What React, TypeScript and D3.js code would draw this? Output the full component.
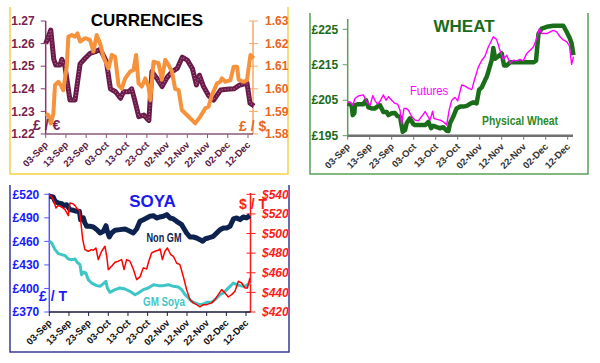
import React from 'react';
import * as d3 from 'd3';

type Pt = [number, number]; // [days after 03-Sep, value]

const FONT = '"Liberation Sans", Arial, sans-serif';

const tickDays = [0, 10, 20, 30, 40, 50, 60, 70, 80, 90, 100];
const tickLabels = ['03-Sep', '13-Sep', '23-Sep', '03-Oct', '13-Oct', '23-Oct', '02-Nov', '12-Nov', '22-Nov', '02-Dec', '12-Dec'];

// currencies
const eurTicks = [1.22, 1.23, 1.24, 1.25, 1.26, 1.27];
const usdTicks = [1.58, 1.59, 1.6, 1.61, 1.62, 1.63];
const gbpEur: Pt[] = [
  [0, 1.26], [2.5, 1.266], [4, 1.253], [5, 1.2505], [7, 1.2505], [8, 1.253], [9.5, 1.25], [12, 1.235],
  [14.5, 1.235], [17, 1.251], [19.5, 1.2535], [22, 1.2557], [24.5, 1.2564], [27, 1.2575], [30, 1.252],
  [32, 1.24], [34.5, 1.2387], [37, 1.2358], [38.5, 1.2387], [41, 1.2387], [42.5, 1.24], [44, 1.235],
  [46, 1.2277], [48.5, 1.2284], [50, 1.2269], [51, 1.226], [52.5, 1.2476], [55, 1.2446], [57.5, 1.241],
  [60, 1.245], [62.5, 1.2476], [65, 1.249], [67.5, 1.254], [70, 1.2527], [72.5, 1.249], [74.5, 1.2417],
  [76, 1.246], [78, 1.241], [80.5, 1.237], [83, 1.235], [86.5, 1.2395], [89.5, 1.2398], [93, 1.24],
  [96, 1.2417], [99.5, 1.2425], [101, 1.2336], [103, 1.2324],
];
const gbpUsd: Pt[] = [
  [0, 1.589], [1.3, 1.5884], [2.5, 1.5847], [3.8, 1.589], [4.6, 1.6017], [6.3, 1.6031], [7.9, 1.6009],
  [8.7, 1.5994], [10.4, 1.6098], [11.2, 1.6231], [12.9, 1.6238], [14.5, 1.6231], [15.7, 1.6245],
  [17, 1.6209], [19.5, 1.6224], [21.9, 1.6216], [23.6, 1.6165], [25.2, 1.6238], [26.9, 1.62],
  [28.5, 1.6142], [31, 1.609], [32.7, 1.615], [34.3, 1.6142], [36, 1.6017], [37.6, 1.6], [39.3, 1.6046],
  [41.7, 1.6076], [43.4, 1.6083], [44.7, 1.615], [45.9, 1.6024], [47.5, 1.601], [49.2, 1.6046],
  [50.8, 1.601], [51.7, 1.595], [53.3, 1.612], [55.8, 1.6113], [57.4, 1.604], [59.1, 1.6128],
  [60.7, 1.6106], [62.4, 1.6076], [64, 1.6], [65.7, 1.5994], [67.3, 1.5906], [69.8, 1.5884],
  [72.3, 1.5862], [73.9, 1.5847], [76.4, 1.5877], [78.9, 1.5914], [80.5, 1.5921], [82.2, 1.5973],
  [84.7, 1.6024], [86.3, 1.6031], [87.1, 1.6046], [88.8, 1.6031], [91.3, 1.6038], [92.9, 1.6098],
  [94.6, 1.6098], [95.4, 1.604], [97.9, 1.6031], [99.5, 1.6038], [101.2, 1.615], [102.8, 1.6135],
];

// wheat
const wheatTicks = [195, 205, 215, 225];
const physicalWheat: Pt[] = [
  [0, 204.1], [1.8, 203.6], [2.3, 200.8], [3, 201.3], [3.3, 203.6], [4.8, 203.9], [7.1, 203.9], [8.3, 205],
  [9.4, 203], [10.9, 202.7], [12.4, 202.7], [13.9, 203.4], [14.7, 203.6], [16.2, 201.7], [17.7, 201.7],
  [18.5, 200.8], [20, 201.3], [21.5, 201.4], [22.6, 200.5], [23.8, 200.3], [25, 196.1], [26.1, 196.6],
  [26.8, 198.5], [28.3, 199.9], [29.8, 198.3], [30.6, 198], [32.9, 198], [35.2, 198], [36.7, 198.9],
  [37.9, 197.1], [38.9, 197.8], [40.5, 197.4], [42, 197.1], [43.5, 197.4], [45, 196.4], [45.8, 196.3],
  [46.5, 198.5], [48, 200.4], [49.5, 202.7], [51.1, 203.2], [52.6, 203.2], [54.1, 203.4], [55.6, 204],
  [57.1, 204.4], [58.6, 204.1], [59.7, 207.9], [60.9, 208.6], [62.4, 210.6], [63.2, 211.6], [63.9, 213],
  [65.5, 216.4], [66.2, 219.7], [67, 216.7], [68.5, 217.4], [70, 218.2], [71.1, 214.8], [72.3, 214.8],
  [73.8, 215.7], [84.4, 215.7], [85.6, 216.2], [86.7, 223.7], [88.2, 225.2], [90.5, 225.7], [93.5, 226],
  [98, 226], [99.5, 224.3], [101, 222.4], [101.8, 221], [102.6, 217.7],
];
const wheatFutures: Pt[] = [
  [0, 204.4], [1.1, 204.5], [2.3, 203.6], [3.3, 205.5], [4.8, 206.2], [7.1, 206.5], [8.6, 204.6],
  [10.2, 203.6], [11.4, 206.3], [12.4, 204.9], [13.6, 203.9], [14.7, 204.7], [16.2, 206.5], [17.4, 205],
  [18.5, 206], [20, 205], [21.5, 204.1], [22.7, 203.9], [23.8, 202.2], [24.5, 198.3], [25.6, 202.7],
  [26.5, 202.7], [27.6, 202.2], [29.1, 200.4], [30.6, 199.4], [32.1, 199.2], [33.6, 200.4], [35.2, 201.8],
  [36.7, 200.2], [37.4, 199.4], [38.6, 201.9], [39.2, 199.9], [40.5, 199.6], [42, 199.4], [43.5, 198.9],
  [45, 198], [46.1, 202.2], [47.3, 205], [48.8, 205.8], [50, 204.8], [51.8, 209.3], [53.3, 209],
  [54.8, 208.4], [56.4, 208], [57.6, 210.7], [59.4, 214.4], [60.9, 216.2], [62.4, 217.4], [63.9, 220],
  [66.2, 222.9], [67.7, 222.1], [69.2, 219.1], [70.8, 216.5], [72.3, 217.7], [73.8, 215.4], [75.3, 216.3],
  [76.8, 216.1], [78.3, 216.5], [79.8, 216.1], [81.4, 218.2], [82.9, 219.1], [84.4, 220], [85.9, 222.4],
  [87.1, 225.2], [88.2, 223.8], [90.5, 223.8], [92, 224.3], [93.5, 224.7], [95, 224.3], [96.5, 222.9],
  [98, 222], [99.5, 221.5], [100.8, 220.3], [101.8, 215.1], [102.6, 217.3],
];

// soya
const soyaGbpTicks = [370, 400, 430, 460, 490, 520];
const soyaUsdTicks = [420, 440, 460, 480, 500, 520, 540];
const nonGm: Pt[] = [
  [0, 517.5], [2, 516.6], [2.9, 511.1], [4.6, 509], [6.3, 508.1], [7.1, 505.5], [8.8, 506.7], [10.5, 500.5],
  [12.2, 499.6], [13.9, 498.4], [15.3, 498.4], [15.9, 487.7], [17.3, 489.9], [18.1, 483.5], [19, 479.2],
  [20.7, 479.2], [22.4, 478.4], [24.1, 475], [25.8, 470.7], [27.5, 472.9], [28.8, 480], [29.5, 472.9],
  [30.5, 465.6], [31.7, 470.7], [33.4, 474.1], [35.9, 475], [38.5, 475.8], [41, 472.9], [42.7, 470.7],
  [44.4, 475.8], [46.1, 485.6], [47.8, 487.7], [49.5, 489.8], [51.2, 492], [52.9, 492.8], [54.6, 489.8],
  [56.3, 491.1], [58, 492], [59.7, 494.1], [61.4, 489.8], [63.1, 488.6], [64.7, 485.6], [67.3, 481.3],
  [69.8, 470.7], [71.5, 465.6], [73.2, 465.6], [74.9, 464.3], [76.6, 462.2], [78, 460.1], [79.2, 463.1],
  [80.8, 464.3], [83.4, 466.5], [85.1, 470.7], [86.8, 474.9], [88.5, 477.1], [90.2, 477.1], [91.9, 479.2],
  [93.6, 488.6], [95.3, 489.9], [97, 487.7], [98.6, 491.1], [100.3, 489.9], [102, 492.8],
];
const gmSoya: Pt[] = [
  [0, 460.1], [1.2, 458], [2.9, 449.5], [4.6, 444.4], [6.3, 443.1], [8, 441.8], [9.7, 437.6], [11.4, 436.7],
  [13.1, 437.6], [14.2, 433.4], [15.6, 430.3], [16.4, 417.6], [17.3, 420.6], [18.6, 419.7], [19.8, 411.2],
  [21.5, 406.9], [24.1, 403.6], [25.8, 402.7], [27.5, 406.1], [28.8, 409.1], [29.5, 400.6], [30.8, 395.1],
  [33.4, 398.5], [35.9, 400.6], [38.5, 399.3], [41, 396.3], [43.6, 392.1], [45.3, 394.2], [47.8, 398.5],
  [50.3, 400.6], [52.9, 404.8], [55.4, 403.6], [58, 403.6], [60.5, 404.8], [63.1, 402.7], [65.6, 401.8],
  [67.3, 398.5], [69, 392.1], [70.7, 387.8], [72.4, 383.6], [74.9, 380.6], [76.6, 379.3], [78.3, 380.2],
  [80, 382.3], [82.5, 382.3], [85.1, 387.8], [86.8, 392.1], [88.5, 394.2], [90.2, 398.5], [91.9, 402.7],
  [93.6, 407], [95.3, 404.8], [97, 403.6], [98.6, 402.7], [100.3, 403.6], [102, 407.8],
];
const soyaUsd: Pt[] = [
  [0, 539.7], [1.2, 537.3], [2, 534.6], [3.4, 526.1], [4.6, 528.5], [6.3, 527.1], [8, 524.4], [9.7, 518.2],
  [10.5, 531.2], [11.9, 530.5], [13.1, 528.5], [14.2, 525.1], [15.3, 523.7], [15.9, 514.2], [17, 493.8],
  [18.1, 483.6], [19.8, 481.9], [21.5, 483.6], [22.4, 482.9], [23.7, 485.3], [24.9, 473.4], [26.6, 481.9],
  [28.3, 487], [29.2, 476.8], [30, 463.2], [31.7, 466.6], [33.4, 470.7], [35.1, 471.8], [36.8, 473.4],
  [38, 463.2], [39.3, 473.4], [41, 471.8], [42.7, 463.9], [44.4, 453], [46.1, 455.8], [47.8, 465],
  [49.5, 463.9], [50.3, 470], [52, 480.2], [53.7, 481.9], [55.4, 482.9], [56.3, 484.3], [57.5, 473.4],
  [58.8, 481.9], [60, 485.3], [61.7, 478.6], [63.1, 476.8], [64.7, 470], [66.4, 468.3], [68.1, 456.4],
  [69.8, 442.8], [71.5, 432.6], [73.2, 429.3], [74.9, 427.5], [76.6, 425.1], [78.3, 427.5], [80, 427.5],
  [82.5, 429.3], [84.2, 432.6], [85.9, 437.7], [87.6, 442.8], [89.3, 439.5], [91, 435.3], [92.7, 437.7],
  [94.4, 441.2], [96.1, 451.3], [97.8, 449.6], [99.5, 444.5], [100.7, 444.5], [102, 454.7],
];

function makeLine(x: d3.ScaleLinear<number, number>, y: d3.ScaleLinear<number, number>) {
  return d3.line<Pt>().x(d => x(d[0])).y(d => y(d[1]));
}

function DateAxis({ x, y, x1, color, labelColor, width = 1.5 }: any) {
  return (
    <g>
      <line x1={x(0)} x2={x1} y1={y} y2={y} stroke={color} strokeWidth={width} />
      {tickDays.map((d, i) => (
        <g key={i}>
          <line x1={x(d)} x2={x(d)} y1={y} y2={y + 4} stroke={color} />
          <text
            transform={`translate(${x(d) + 3},${y + 11.5}) rotate(-45)`}
            textAnchor="end"
            fontSize={9.5}
            fontWeight="bold"
            fill={labelColor}
          >
            {tickLabels[i]}
          </text>
        </g>
      ))}
    </g>
  );
}

function ValueAxis({ y, x, ticks, color, labelColor, side, fmt, top, italic, both, gap = 11 }: any) {
  const [y0, y1] = y.range();
  return (
    <g>
      <line x1={x} x2={x} y1={y0} y2={top ?? y1} stroke={color} strokeWidth={1.5} />
      {ticks.map((t: number) => (
        <g key={t}>
          <line
            x1={both ? x - 4 : x}
            x2={side === 'left' ? x - 5 : x + 5}
            y1={y(t)}
            y2={y(t)}
            stroke={color}
          />
          <text
            x={side === 'left' ? x - gap : x + gap}
            y={y(t)}
            dy="0.35em"
            textAnchor={side === 'left' ? 'end' : 'start'}
            fontSize={12}
            fontWeight="bold"
            fontStyle={italic ? 'italic' : 'normal'}
            fill={labelColor}
          >
            {fmt(t)}
          </text>
        </g>
      ))}
    </g>
  );
}

export default function App() {
  // currencies panel
  const cx = d3.scaleLinear().domain([0, 100]).range([45.7, 248]);
  const cyL = d3.scaleLinear().domain([1.22, 1.27]).range([134, 21]);
  const cyR = d3.scaleLinear().domain([1.58, 1.63]).range([134, 21]);
  const eurPath = makeLine(cx, cyL)(gbpEur) || '';
  const usdPath = makeLine(cx, cyR)(gbpUsd) || '';

  // wheat panel
  const wx = d3.scaleLinear().domain([0, 100]).range([347.7, 567.7]);
  const wy = d3.scaleLinear().domain([195, 225]).range([135.7, 29.3]);

  // soya panel
  const sx = d3.scaleLinear().domain([0, 100]).range([49.3, 246]);
  const syL = d3.scaleLinear().domain([370, 520]).range([312, 194.3]);
  const syR = d3.scaleLinear().domain([420, 540]).range([312, 194.3]);

  return (
    <svg
      width={600}
      height={363}
      style={{ position: 'absolute', left: 0, top: 0, background: '#fff' }}
      fontFamily={FONT}
    >
      {/* CURRENCIES */}
      <path d="M10,7 V174 H288 V7" fill="none" stroke="#f3d24c" strokeWidth={1.5} />
      <text x={147} y={26} textAnchor="middle" fontSize={17} fontWeight="bold" fill="#000">CURRENCIES</text>
      <ValueAxis y={cyL} x={45.7} ticks={eurTicks} color="#8a3a6a" labelColor="#7a1f50" side="left" fmt={(v: number) => v.toFixed(2)} />
      <ValueAxis y={cyR} x={253} ticks={usdTicks} color="#f5a86a" labelColor="#e8661e" side="right" both gap={12} fmt={(v: number) => v.toFixed(2)} />
      <DateAxis x={cx} y={134} x1={253} color="#8a5a7a" labelColor="#5a1a40" />
      <path d={eurPath} fill="none" stroke="#6a1a48" strokeWidth={5} strokeLinejoin="round" />
      <path d={eurPath} fill="none" stroke="#b06a94" strokeWidth={1.4} strokeDasharray="1 2" strokeLinejoin="round" />
      <path d={usdPath} fill="none" stroke="#f7923c" strokeWidth={4} strokeLinejoin="round" />
      <text x={33} y={130} fontSize={14} fontWeight="bold" fill="#7a1f50">£ / €</text>
      <text x={239} y={131} fontSize={14} fontWeight="bold" fill="#e8661e">£ / $</text>

      {/* WHEAT */}
      <path d="M310,13 V174 H588 V13" fill="none" stroke="#5aa05a" strokeWidth={1.5} />
      <text x={464} y={31.5} textAnchor="middle" fontSize={17} fontWeight="bold" fill="#1a6b1a">WHEAT</text>
      <ValueAxis y={wy} x={347.7} top={19} ticks={wheatTicks} color="#5aa05a" labelColor="#1a6b1a" side="left" gap={9.5} fmt={(v: number) => `£${v}`} />
      <DateAxis x={wx} y={135.7} x1={573} color="#707070" labelColor="#333" width={2.5} />
      <path d={makeLine(wx, wy)(physicalWheat) || ''} fill="none" stroke="#1a6e1a" strokeWidth={4.5} strokeLinejoin="round" />
      <path d={makeLine(wx, wy)(wheatFutures) || ''} fill="none" stroke="#ff00ff" strokeWidth={1.4} strokeLinejoin="round" />
      <text x={410} y={95} fontSize={12} fill="#ff00ff" textLength={38} lengthAdjust="spacingAndGlyphs">Futures</text>
      <text x={482} y={125} fontSize={12} fontWeight="bold" fill="#2a8a2a" textLength={76} lengthAdjust="spacingAndGlyphs">Physical Wheat</text>

      {/* SOYA */}
      <path d="M10,185 V352 H289 V185" fill="none" stroke="#3a3a95" strokeWidth={1.5} />
      <text x={152.5} y={206.5} textAnchor="middle" fontSize={17} fontWeight="bold" fill="#1a1aee">SOYA</text>
      <ValueAxis y={syL} x={49.3} top={193} ticks={soyaGbpTicks} color="#5555ff" labelColor="#1a1aff" side="left" gap={10} fmt={(v: number) => `£${v}`} />
      <ValueAxis y={syR} x={250.5} top={193} ticks={soyaUsdTicks} color="#ff1a1a" labelColor="#ff1a1a" side="right" italic both gap={11.5} fmt={(v: number) => `$${v}`} />
      <DateAxis x={sx} y={312} x1={250.5} color="#1a1a3a" labelColor="#111" />
      <path d={makeLine(sx, syL)(nonGm) || ''} fill="none" stroke="#0e2250" strokeWidth={5} strokeLinejoin="round" />
      <path d={makeLine(sx, syL)(gmSoya) || ''} fill="none" stroke="#3ec6c6" strokeWidth={3} strokeLinejoin="round" />
      <path d={makeLine(sx, syR)(soyaUsd) || ''} fill="none" stroke="#ff0000" strokeWidth={1.5} strokeLinejoin="round" />
      <text x={146.5} y={242} fontSize={13} fontWeight="bold" fill="#0e2250" textLength={35} lengthAdjust="spacingAndGlyphs">Non GM</text>
      <text x={143} y={306} fontSize={13} fontWeight="bold" fill="#3ec6c6" textLength={42} lengthAdjust="spacingAndGlyphs">GM Soya</text>
      <text x={39} y={301} fontSize={14} fontWeight="bold" fill="#1a1aff">£ / T</text>
      <text x={239} y={209} fontSize={14} fontWeight="bold" fill="#ff1a1a">$ / T</text>
    </svg>
  );
}
